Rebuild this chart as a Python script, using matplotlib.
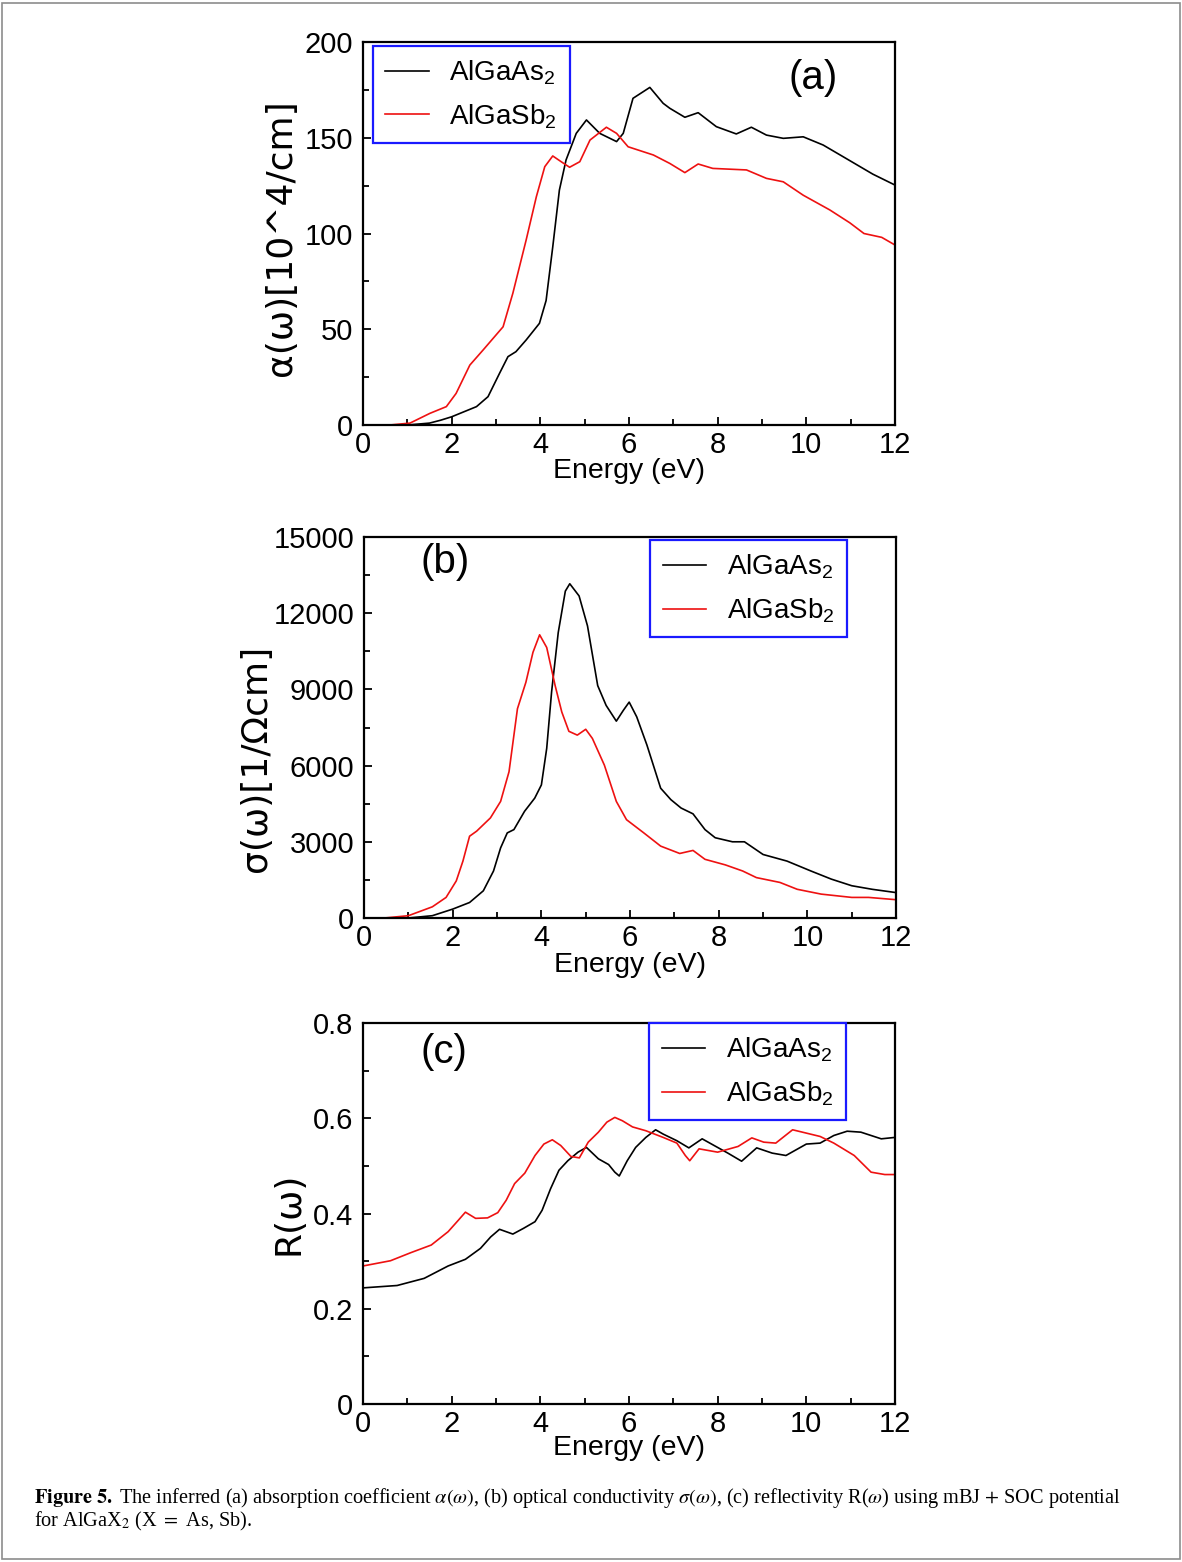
import matplotlib
matplotlib.use('Agg')
import matplotlib.pyplot as plt
from matplotlib.lines import Line2D
from matplotlib.patches import Rectangle
from matplotlib.ticker import MultipleLocator

plt.rcParams['font.family'] = 'Liberation Sans'
plt.rcParams['mathtext.fontset'] = 'custom'
plt.rcParams['mathtext.rm'] = 'Liberation Sans'
plt.rcParams['mathtext.it'] = 'Liberation Sans:italic'
plt.rcParams['mathtext.bf'] = 'Liberation Sans:bold'

# (a) absorption coefficient, 10^4/cm
e_abs_as = [0, 1.0, 1.5, 1.75, 2.0, 2.56, 2.82, 3.08, 3.27, 3.45, 3.68, 3.98, 4.13,
            4.28, 4.43, 4.58, 4.81, 5.04, 5.34, 5.72, 5.87, 6.09, 6.47, 6.77, 6.92,
            7.26, 7.56, 7.97, 8.42, 8.76, 9.1, 9.48, 9.93, 10.38, 10.83, 11.5, 12.0]
abs_as = [0, 0, 1.0, 2.5, 4.3, 9.6, 14.8, 27.0, 35.7, 38.3, 44.4, 53.1, 65.0,
          93.0, 122.7, 138.4, 152.3, 159.3, 152.3, 148.0, 152.3, 170.6, 176.3, 168.0, 165.4,
          160.7, 163.1, 155.8, 152.0, 155.5, 151.4, 149.7, 150.5, 146.2, 140.1, 131.0, 125.3]
e_abs_sb = [0, 0.6, 1.06, 1.51, 1.88, 2.1, 2.41, 2.71, 3.16, 3.38, 3.68, 3.91, 4.1,
            4.28, 4.47, 4.66, 4.89, 5.12, 5.49, 5.72, 5.98, 6.55, 6.92, 7.26, 7.56,
            7.89, 8.65, 9.1, 9.48, 9.93, 10.53, 10.98, 11.3, 11.7, 12.0]
abs_sb = [0, 0, 1.0, 6.1, 9.6, 16.5, 31.3, 39.2, 51.3, 68.8, 96.6, 119.2, 134.9,
          140.5, 137.5, 134.6, 137.5, 148.8, 155.5, 152.3, 145.3, 141.0, 136.6, 131.8, 136.3,
          134.0, 133.2, 128.8, 127.0, 120.0, 112.3, 105.6, 100.0, 98.0, 94.0]

# (b) optical conductivity, 1/(Ohm cm)
e_cond_as = [0, 1.0, 1.54, 2.0, 2.38, 2.69, 2.92, 3.08, 3.23, 3.38, 3.62, 3.85, 4.0,
             4.12, 4.23, 4.38, 4.54, 4.64, 4.85, 5.04, 5.27, 5.46, 5.69, 5.85, 5.98,
             6.15, 6.38, 6.69, 6.92, 7.15, 7.42, 7.69, 7.92, 8.31, 8.58, 9.0, 9.54,
             10.08, 10.54, 11.0, 11.46, 12.0]
cond_as = [0, 0, 90, 350, 610, 1070, 1850, 2760, 3350, 3480, 4200, 4720, 5240,
           6680, 8900, 11240, 12870, 13160, 12680, 11500, 9150, 8370, 7750, 8180, 8500,
           7920, 6810, 5110, 4660, 4330, 4100, 3480, 3160, 3000, 3000, 2500, 2240,
           1850, 1530, 1270, 1130, 1000]
e_cond_sb = [0, 0.46, 1.0, 1.54, 1.85, 2.08, 2.23, 2.38, 2.54, 2.85, 3.08, 3.27, 3.46,
             3.65, 3.81, 3.96, 4.12, 4.31, 4.46, 4.62, 4.81, 5.0, 5.15, 5.42, 5.69,
             5.92, 6.31, 6.69, 7.12, 7.42, 7.69, 8.15, 8.54, 8.85, 9.38, 9.77, 10.31,
             11.0, 11.38, 12.0]
cond_sb = [0, 0, 90, 440, 810, 1460, 2240, 3220, 3420, 3940, 4590, 5760, 8240,
           9280, 10460, 11150, 10650, 9150, 8110, 7350, 7200, 7430, 7070, 6020, 4590,
           3870, 3350, 2830, 2540, 2660, 2310, 2090, 1850, 1590, 1400, 1130, 940,
           810, 810, 720]

# (c) reflectivity
e_refl_as = [0, 0.77, 1.38, 1.92, 2.31, 2.65, 2.88, 3.08, 3.38, 3.62, 3.88, 4.04, 4.23,
             4.42, 4.62, 4.85, 5.04, 5.31, 5.54, 5.68, 5.78, 5.96, 6.15, 6.38, 6.6,
             6.77, 7.08, 7.35, 7.65, 7.92, 8.23, 8.54, 8.88, 9.23, 9.54, 10.0, 10.31,
             10.62, 10.92, 11.23, 11.69, 12.0]
refl_as = [0.244, 0.249, 0.264, 0.290, 0.304, 0.327, 0.351, 0.367, 0.357, 0.369, 0.383, 0.407, 0.452,
           0.491, 0.511, 0.529, 0.539, 0.515, 0.503, 0.487, 0.479, 0.511, 0.539, 0.560, 0.576,
           0.567, 0.553, 0.538, 0.557, 0.543, 0.527, 0.510, 0.538, 0.527, 0.522, 0.546, 0.548,
           0.564, 0.573, 0.571, 0.557, 0.560]
e_refl_sb = [0, 0.62, 1.08, 1.54, 1.92, 2.15, 2.31, 2.54, 2.81, 3.04, 3.23, 3.42, 3.65,
             3.88, 4.08, 4.27, 4.46, 4.69, 4.88, 5.08, 5.31, 5.5, 5.68, 5.85, 6.08,
             6.38, 6.77, 7.08, 7.27, 7.37, 7.58, 8.0, 8.46, 8.77, 9.04, 9.31, 9.69,
             10.0, 10.31, 10.62, 11.08, 11.46, 11.77, 12.0]
refl_sb = [0.290, 0.301, 0.318, 0.334, 0.362, 0.386, 0.403, 0.390, 0.391, 0.402, 0.428, 0.463, 0.485,
           0.522, 0.546, 0.555, 0.543, 0.520, 0.517, 0.550, 0.571, 0.592, 0.602, 0.595, 0.582,
           0.574, 0.560, 0.548, 0.522, 0.511, 0.536, 0.529, 0.541, 0.559, 0.550, 0.548, 0.576,
           0.569, 0.562, 0.548, 0.522, 0.487, 0.482, 0.482]

labels = ['AlGaAs$_2$', 'AlGaSb$_2$']
colors = ['black', '#ee1111']

fig = plt.figure(figsize=(11.82, 15.62), dpi=100)

ax_a = fig.add_axes([0.3071, 0.7279, 0.4501, 0.2452])
ax_b = fig.add_axes([0.3080, 0.4123, 0.4501, 0.2439])
ax_c = fig.add_axes([0.3071, 0.1011, 0.4501, 0.2439])

panels = [
    (ax_a, e_abs_as, abs_as, e_abs_sb, abs_sb, (0, 200), 50, 25, '\u03b1(\u03c9)[10^4/cm]', '(a)'),
    (ax_b, e_cond_as, cond_as, e_cond_sb, cond_sb, (0, 15000), 3000, 1500, '\u03c3(\u03c9)[1/\u03a9cm]', '(b)'),
    (ax_c, e_refl_as, refl_as, e_refl_sb, refl_sb, (0, 0.8), 0.2, 0.1, 'R(\u03c9)', '(c)'),
]

for ax, x1, y1, x2, y2, ylim, ymaj, ymin, ylab, tag in panels:
    ax.plot(x1, y1, color=colors[0], lw=1.2)
    ax.plot(x2, y2, color=colors[1], lw=1.2)
    ax.set_xlim(0, 12)
    ax.set_ylim(*ylim)
    ax.xaxis.set_major_locator(MultipleLocator(2))
    ax.xaxis.set_minor_locator(MultipleLocator(1))
    ax.yaxis.set_major_locator(MultipleLocator(ymaj))
    ax.yaxis.set_minor_locator(MultipleLocator(ymin))
    ax.tick_params(which='both', direction='in', labelsize=21, width=1.3)
    ax.tick_params(axis='x', which='major', length=6, pad=4)
    ax.tick_params(axis='y', which='major', length=6, pad=7)
    ax.tick_params(which='minor', length=4)
    for s in ax.spines.values():
        s.set_linewidth(1.6)
    ax.set_xlabel('Energy (eV)', fontsize=20.5)
    ax.set_ylabel(ylab, fontsize=26, family='DejaVu Sans')

# reflectivity ticks read 0, 0.2, ...
ax_c.set_yticks([0, 0.2, 0.4, 0.6, 0.8])
ax_c.set_yticklabels(['0', '0.2', '0.4', '0.6', '0.8'])

ax_a.xaxis.set_label_coords(0.5, -0.086)
ax_b.xaxis.set_label_coords(0.5, -0.088)
ax_c.xaxis.set_label_coords(0.5, -0.082)
ax_a.yaxis.set_label_coords(-0.122, 0.49)
ax_b.yaxis.set_label_coords(-0.172, 0.42)
ax_c.yaxis.set_label_coords(-0.108, 0.5)

ax_a.text(0.846, 0.906, '(a)', transform=ax_a.transAxes, fontsize=29, ha='center', va='center')
ax_b.text(0.152, 0.934, '(b)', transform=ax_b.transAxes, fontsize=29, ha='center', va='center')
ax_c.text(0.152, 0.924, '(c)', transform=ax_c.transAxes, fontsize=29, ha='center', va='center')

# legends with blue frames
handles = [Line2D([], [], color=c, lw=1.2) for c in colors]
for ax, anchor in [(ax_a, (0.0188, 0.990)), (ax_b, (0.538, 0.992)), (ax_c, (0.538, 1.0))]:
    leg = ax.legend(handles, labels, loc='upper left', bbox_to_anchor=anchor,
                    borderaxespad=0, fancybox=False, framealpha=1, edgecolor='#1a1aff',
                    fontsize=20, handlelength=1.55, handletextpad=0.75, borderpad=0.45,
                    labelspacing=0.55)
    leg.get_frame().set_linewidth(1.6)

# caption
fig.text(0.0288, 0.0378,
         r'$\mathbf{Figure\ 5.}$ The inferred (a) absorption coefficient $\alpha(\omega)$, '
         r'(b) optical conductivity $\sigma(\omega)$, (c) reflectivity R($\omega$) '
         r'using mBJ $+$ SOC potential',
         family='Liberation Serif', math_fontfamily='stix', fontsize=14.6, ha='left', va='baseline')
fig.text(0.0288, 0.0230, r'for AlGaX$_2$ (X $=$ As, Sb).',
         family='Liberation Serif', math_fontfamily='stix', fontsize=14.6, ha='left', va='baseline')

# page frame
fig.patches.append(Rectangle((0.002, 0.002), 0.996, 0.996, transform=fig.transFigure,
                             fill=False, edgecolor='#8c8c8c', lw=1.2))

fig.savefig('out.png', dpi=100)
